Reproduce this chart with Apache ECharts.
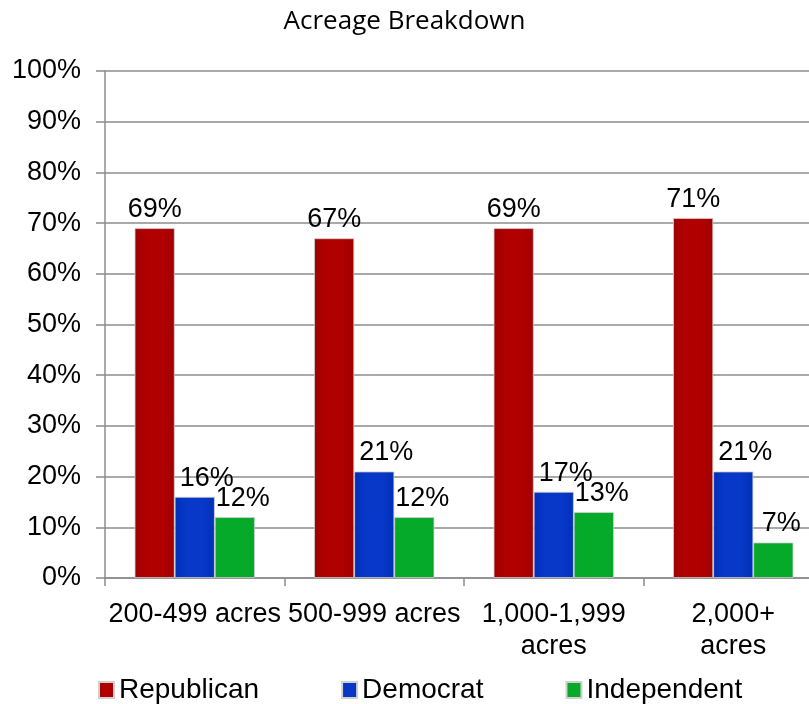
<!DOCTYPE html>
<html><head><meta charset="utf-8">
<script src="https://cdn.jsdelivr.net/npm/echarts@6/dist/echarts.min.js"></script>
<style>html,body{margin:0;padding:0;background:#fff}#c{width:809px;height:704px}</style>
</head><body><div id="c"></div>
<script>
const categories = ['200-499 acres', '500-999 acres', '1,000-1,999\nacres', '2,000+\nacres'];
const republican = [69, 67, 69, 71];
const democrat = [16, 21, 17, 21];
const independent = [12, 12, 13, 7];
const yTicks = [0, 10, 20, 30, 40, 50, 60, 70, 80, 90, 100];

const FONT = '"Liberation Sans", Arial, sans-serif';
function grad(edge, mid) {
  return new echarts.graphic.LinearGradient(0, 0, 1, 0, [
    {offset: 0, color: edge}, {offset: 0.3, color: mid}, {offset: 0.7, color: mid}, {offset: 1, color: edge}
  ]);
}
const chart = echarts.init(document.getElementById('c'), null, {renderer: 'canvas'});
function mk(name, data, c1, c2, off) {
  return {
    name, type: 'bar', data, barGap: '0%', barCategoryGap: '33%',
    itemStyle: {color: grad(c1, c2), borderColor: '#d0d0d0', borderWidth: 0.8},
    label: {show: true, position: 'top', formatter: '{c}%', fontFamily: FONT, fontSize: 27, color: '#000', offset: off, distance: 5}
  };
}
chart.setOption({
  animation: false,
  color: ['#AA0000', '#0033BE', '#06A82A'],
  title: {text: 'Acreage Breakdown', left: 'center', top: 4,
    textStyle: {fontFamily: '"Open Sans", Lato, sans-serif', fontWeight: 'normal', fontSize: 26, color: '#000'}},
  legend: {left: 93, top: 671, itemWidth: 15, itemHeight: 16, itemGap: 82,
    icon: 'rect',
    textStyle: {fontFamily: FONT, fontSize: 28, color: '#000'},
    data: ['Republican', 'Democrat', 'Independent']},
  grid: {left: 105, top: 71, width: 718, height: 507, containLabel: false, outerBoundsMode: 'none'},
  xAxis: {type: 'category', data: categories,
    axisLine: {lineStyle: {color: '#8c8c8c', width: 1.5}},
    axisTick: {show: true, length: 8, lineStyle: {color: '#8c8c8c', width: 1.5}},
    axisLabel: {fontFamily: FONT, fontSize: 27, color: '#000', margin: 21, lineHeight: 32, interval: 0}},
  yAxis: {type: 'value', min: 0, max: 100, interval: 10,
    axisLine: {show: true, lineStyle: {color: '#8c8c8c', width: 1.5}},
    axisTick: {show: true, length: 9, lineStyle: {color: '#8c8c8c', width: 1.5}},
    splitLine: {lineStyle: {color: '#8c8c8c', width: 1.5}},
    axisLabel: {fontFamily: FONT, fontSize: 27, color: '#000', margin: 24,
      formatter: v => yTicks.includes(v) ? v + '%' : ''}},
  series: [
    mk('Republican', republican, '#A00000', '#B00000', [0, 0]),
    mk('Democrat', democrat, '#0030B8', '#0838C8', [12, 0]),
    mk('Independent', independent, '#06A82A', '#06AA2A', [8, 0])
  ]
});
</script></body></html>
